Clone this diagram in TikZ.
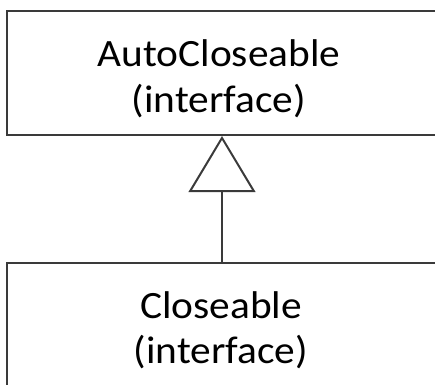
\documentclass[tikz,border=0pt]{standalone}
\usepackage{fontspec}
\setmainfont{Carlito}[FakeStretch=1.07]
\usetikzlibrary{arrows.meta}

\begin{document}
\begin{tikzpicture}[x=0.75pt,y=0.75pt,yscale=-1,xscale=1,
  umlbox/.style={draw={rgb,255:red,58;green,58;blue,58},line width=1.5pt,minimum width=322.5pt,inner sep=0pt},
  umltext/.style={align=center,inner sep=0pt,anchor=base,font=\fontsize{29}{33.75}\selectfont}]
\useasboundingbox (0,0) rectangle (435,385);

%Shape: Rectangle [id:auto]
\node [umlbox,minimum height=93pt] (auto) at (222,73) {};
%Shape: Rectangle [id:closeable]
\node [umlbox,minimum height=106.5pt] (closeable) at (222,334) {};

%Straight Lines [id:inherit]
\draw [color={rgb,255:red,58;green,58;blue,58},line width=1.5pt,-{Triangle[open,length=42pt,width=50pt,line width=1.5pt]}] (closeable.north) -- (auto.south) ;

% Text Node
\node [umltext] (autotxt) at (219,112) {AutoCloseable\\(interface)};
% Text Node
\node [umltext] (closetxt) at (221,363) {Closeable\\(interface)};

\end{tikzpicture}
\end{document}
